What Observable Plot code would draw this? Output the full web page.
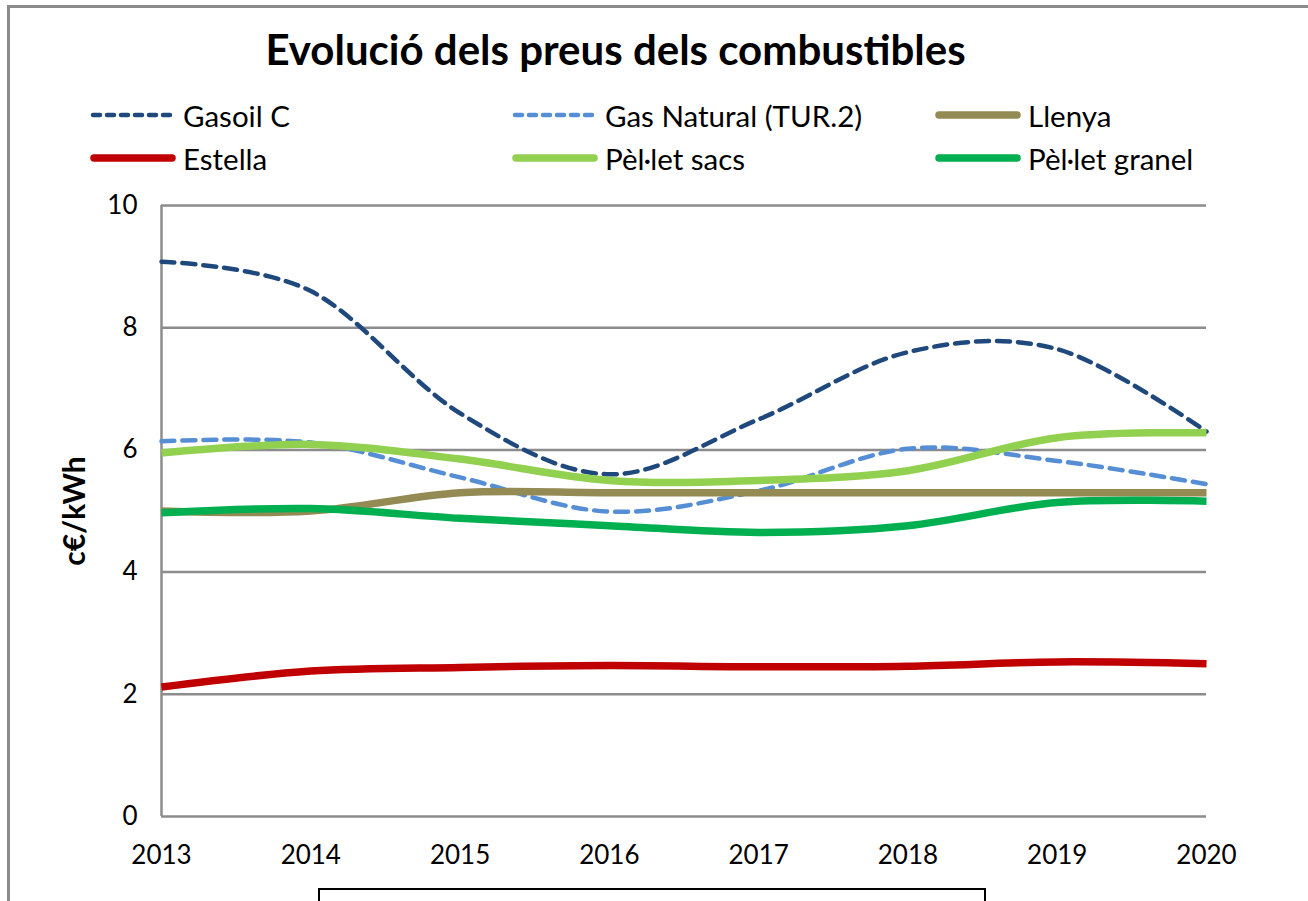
<!DOCTYPE html>
<html>
<head>
<meta charset="utf-8">
<script src="https://cdn.jsdelivr.net/npm/d3@7"></script>
<script src="https://cdn.jsdelivr.net/npm/@observablehq/plot@0.6"></script>
<style>
  html, body { margin: 0; padding: 0; background: #fff; }
  body { width: 1308px; height: 901px; overflow: hidden; position: relative; font-family: Lato, "Open Sans", sans-serif; }
  #frame { position: absolute; left: 7px; top: 5px; width: 1400px; height: 1000px; border: 3px solid #8a8a8a; box-sizing: border-box; }
  #title { position: absolute; left: 0; width: 1231px; top: 23px; line-height: 52px; text-align: center; font-weight: bold; font-size: 42px; color: #000; white-space: nowrap; }
  .leg { position: absolute; display: flex; align-items: center; font-size: 29.5px; color: #000; white-space: nowrap; }
  .leg svg { margin-right: 7px; }
  #chart { position: absolute; left: 0; top: 180px; }
  #xbox { position: absolute; left: 318px; top: 888px; width: 668px; height: 40px; border: 2px solid #000; box-sizing: border-box; }
</style>
</head>
<body>
<div id="frame"></div>
<div id="title">Evolució dels preus dels combustibles</div>
<div id="legend"></div>
<div id="chart"></div>
<div id="xbox"></div>
<script>
const years = [2013, 2014, 2015, 2016, 2017, 2018, 2019, 2020];
const seriesNames = ["Gasoil C", "Gas Natural (TUR.2)", "Llenya", "Estella", "Pèl·let sacs", "Pèl·let granel"];
const gasoilC     = [9.08, 8.60, 6.60, 5.60, 6.50, 7.60, 7.65, 6.30];
const gasNatural  = [6.14, 6.12, 5.55, 4.99, 5.33, 6.02, 5.82, 5.44];
const llenya      = [5.00, 5.00, 5.30, 5.30, 5.30, 5.30, 5.30, 5.30];
const estella     = [2.12, 2.38, 2.44, 2.47, 2.45, 2.46, 2.53, 2.50];
const peletSacs   = [5.95, 6.09, 5.85, 5.50, 5.50, 5.66, 6.20, 6.28];
const peletGranel = [4.97, 5.04, 4.88, 4.76, 4.65, 4.76, 5.14, 5.16];
const yTicks = [0, 2, 4, 6, 8, 10];
const yLabel = "c€/kWh";

const values = [gasoilC, gasNatural, llenya, estella, peletSacs, peletGranel];
const colors = ["#1F497D", "#558ED5", "#948A54", "#C00000", "#92D050", "#00B050"];
const dashed = [true, true, false, false, false, false];

// legend
const legPos = [
  [90, 115], [512, 115], [935, 115],
  [90, 158], [512, 158], [935, 158]
];
const legend = document.getElementById("legend");
seriesNames.forEach((name, i) => {
  const d = document.createElement("div");
  d.className = "leg";
  d.style.left = legPos[i][0] + "px";
  d.style.top = (legPos[i][1] - 17) + "px";
  d.style.height = "34px";
  const sw = dashed[i]
    ? `<svg width="86" height="12"><line x1="3" y1="6" x2="83" y2="6" stroke="${colors[i]}" stroke-width="4.5" stroke-linecap="round" stroke-dasharray="7 7"/></svg>`
    : `<svg width="86" height="12"><line x1="4" y1="6" x2="82" y2="6" stroke="${colors[i]}" stroke-width="7.5" stroke-linecap="round"/></svg>`;
  d.innerHTML = sw + `<span>${name}</span>`;
  legend.appendChild(d);
});

const marks = [
  Plot.ruleY(yTicks, {stroke: "#8c8c8c", strokeWidth: 2.5}),
  Plot.ruleX([years[0]], {y1: 0, y2: 10, stroke: "#8c8c8c", strokeWidth: 2.5}),
  Plot.axisY({ticks: yTicks, tickSize: 0, tickPadding: 24, fontSize: 26, label: null, fill: "#000"}),
  Plot.axisX({ticks: years, tickSize: 0, tickPadding: 29, fontSize: 26, label: null, tickFormat: d => String(d), fill: "#000"}),
  Plot.text([yLabel], {frameAnchor: "left", dx: -86, rotate: -90, textAnchor: "middle", fontSize: 30, fontWeight: "bold", fill: "#000"})
];
values.forEach((vals, i) => {
  const data = years.map((y, j) => ({year: y, value: vals[j]}));
  marks.push(Plot.line(data, {
    x: "year", y: "value", curve: "cardinal",
    stroke: colors[i],
    strokeWidth: dashed[i] ? 4.5 : 7.5,
    strokeDasharray: dashed[i] ? "13 8" : null,
    strokeLinecap: dashed[i] ? "round" : "butt"
  }));
});

const chart = Plot.plot({
  width: 1308,
  height: 700,
  marginLeft: 161,
  marginRight: 102,
  marginTop: 25,
  marginBottom: 64,
  style: {fontFamily: "Lato, 'Open Sans', sans-serif", background: "transparent", overflow: "visible"},
  x: {domain: [2013, 2020], type: "linear"},
  y: {domain: [0, 10]},
  marks
});
document.getElementById("chart").appendChild(chart);
</script>
</body>
</html>
